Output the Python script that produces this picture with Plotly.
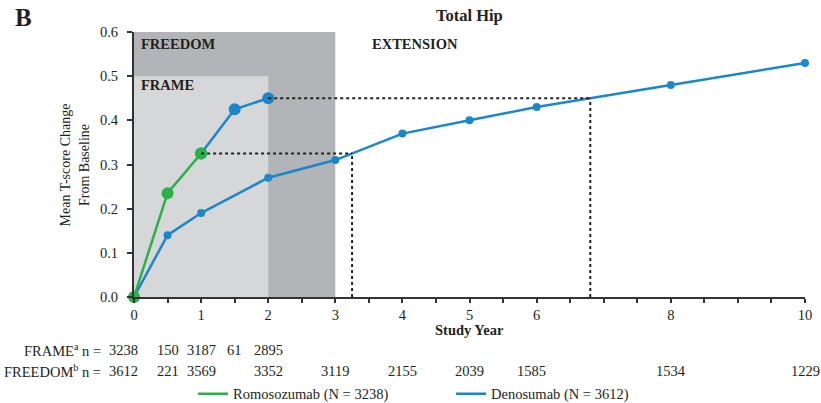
import plotly.graph_objects as go

# Study years and mean T-score change from baseline (total hip)
frame_romo_years = [0, 0.5, 1]
frame_romo_values = [0.0, 0.235, 0.325]
frame_dmab_years = [1, 1.5, 2]
frame_dmab_values = [0.325, 0.425, 0.45]
freedom_years = [0, 0.5, 1, 2, 3, 4, 5, 6, 8, 10]
freedom_values = [0.0, 0.14, 0.19, 0.27, 0.31, 0.37, 0.40, 0.43, 0.48, 0.53]

# Patients at risk
frame_n_years = [0, 0.5, 1, 1.5, 2]
frame_n = ["3238", "150", "3187", "61", "2895"]
freedom_n_years = [0, 0.5, 1, 2, 3, 4, 5, 6, 8, 10]
freedom_n = ["3612", "221", "3569", "3352", "3119", "2155", "2039", "1585", "1534", "1229"]

# Cross-over reference points (year reached on the FREEDOM curve)
ref_from_years = [1, 2]
ref_levels = [0.325, 0.45]
ref_to_years = [3.25, 6.8]

x_tick_vals = [i * 0.5 for i in range(21)]
x_tick_labels = {0: "0", 1: "1", 2: "2", 3: "3", 4: "4", 5: "5", 6: "6", 8: "8", 10: "10"}

GREEN = "#2bb04a"
BLUE = "#1b87c9"
DARK_GRAY = "#b3b4b7"
LIGHT_GRAY = "#d6d7d9"
INK = "#231f20"
SERIF = "Liberation Serif, Times New Roman, serif"

fig = go.Figure()

# Study period shading
fig.add_shape(type="rect", xref="x", yref="y", x0=0, x1=3, y0=0, y1=0.6,
              fillcolor=DARK_GRAY, line_width=0, layer="below")
fig.add_shape(type="rect", xref="x", yref="y", x0=0, x1=2, y0=0, y1=0.5,
              fillcolor=LIGHT_GRAY, line_width=0, layer="below")

# Dotted reference lines
for x0, lvl, x1 in zip(ref_from_years, ref_levels, ref_to_years):
    fig.add_shape(type="line", xref="x", yref="y", x0=x0, x1=x1, y0=lvl, y1=lvl,
                  line=dict(color="#222", width=2, dash="dot"))
    fig.add_shape(type="line", xref="x", yref="y", x0=x1, x1=x1, y0=0, y1=lvl,
                  line=dict(color="#222", width=2, dash="dot"))

fig.add_trace(go.Scatter(x=freedom_years, y=freedom_values, mode="lines+markers",
                         line=dict(color=BLUE, width=2.5), marker=dict(size=8, color=BLUE),
                         showlegend=False, cliponaxis=False))
fig.add_trace(go.Scatter(x=frame_dmab_years, y=frame_dmab_values, mode="lines+markers",
                         line=dict(color=BLUE, width=2.5), marker=dict(size=12, color=BLUE),
                         showlegend=False, cliponaxis=False))
fig.add_trace(go.Scatter(x=frame_romo_years, y=frame_romo_values, mode="lines+markers",
                         line=dict(color=GREEN, width=2.5), marker=dict(size=12, color=GREEN),
                         showlegend=False, cliponaxis=False))

# Legend entries
fig.add_trace(go.Scatter(x=[None], y=[None], mode="lines", name="Romosozumab (N = 3238)",
                         line=dict(color=GREEN, width=2.5)))
fig.add_trace(go.Scatter(x=[None], y=[None], mode="lines", name="Denosumab (N = 3612)",
                         line=dict(color=BLUE, width=2.5)))

ann = []
ann.append(dict(text="<b>B</b>", xref="paper", yref="paper", x=-0.18, y=1.055,
                xanchor="left", yanchor="middle", showarrow=False,
                font=dict(size=25, color=INK, family=SERIF)))
ann.append(dict(text="<b>Total Hip</b>", xref="paper", yref="paper", x=0.5, y=1.062,
                xanchor="center", yanchor="middle", showarrow=False,
                font=dict(size=16.5, color=INK, family=SERIF)))
ann.append(dict(text="<b>FREEDOM</b>", xref="x", yref="y", x=0.08, y=0.573,
                xanchor="left", yanchor="middle", showarrow=False,
                font=dict(size=14.5, color=INK, family=SERIF)))
ann.append(dict(text="<b>FRAME</b>", xref="x", yref="y", x=0.08, y=0.48,
                xanchor="left", yanchor="middle", showarrow=False,
                font=dict(size=14.5, color=INK, family=SERIF)))
ann.append(dict(text="<b>EXTENSION</b>", xref="x", yref="y", x=3.52, y=0.573,
                xanchor="left", yanchor="middle", showarrow=False,
                font=dict(size=14.5, color=INK, family=SERIF)))
ann.append(dict(text="Mean T-score Change<br>From Baseline", xref="paper", yref="paper",
                x=-0.088, y=0.5, xanchor="center", yanchor="middle", textangle=-90,
                showarrow=False, font=dict(size=14, color=INK, family=SERIF)))
ann.append(dict(text="<b>Study Year</b>", xref="paper", yref="paper", x=0.5, y=-0.123,
                xanchor="center", yanchor="middle", showarrow=False,
                font=dict(size=14.5, color=INK, family=SERIF)))

row_y = [-0.2, -0.28]
ann.append(dict(text="FRAME<sup>a</sup> n =", xref="paper", yref="paper", x=-0.046, y=row_y[0],
                xanchor="right", yanchor="middle", showarrow=False,
                font=dict(size=14.5, color=INK, family=SERIF)))
ann.append(dict(text="FREEDOM<sup>b</sup> n =", xref="paper", yref="paper", x=-0.046, y=row_y[1],
                xanchor="right", yanchor="middle", showarrow=False,
                font=dict(size=14.5, color=INK, family=SERIF)))
for yr, n in zip(frame_n_years, frame_n):
    shift = -11 if yr == 0 else 0
    ann.append(dict(text=n, xref="x", yref="paper", x=yr, y=row_y[0], xshift=shift,
                    xanchor="center", yanchor="middle", showarrow=False,
                    font=dict(size=14.5, color=INK, family=SERIF)))
for yr, n in zip(freedom_n_years, freedom_n):
    shift = -11 if yr == 0 else (-5 if yr == 6 else 0)
    ann.append(dict(text=n, xref="x", yref="paper", x=yr, y=row_y[1], xshift=shift,
                    xanchor="center", yanchor="middle", showarrow=False,
                    font=dict(size=14.5, color=INK, family=SERIF)))

fig.update_layout(
    width=821, height=403,
    margin=dict(l=134, r=16, t=32, b=106, autoexpand=False),
    paper_bgcolor="white", plot_bgcolor="white",
    font=dict(family=SERIF, size=14, color=INK),
    annotations=ann,
    showlegend=True,
    legend=dict(orientation="h", x=0.088, y=-0.365, xanchor="left", yanchor="middle",
                entrywidth=213, entrywidthmode="pixels",
                font=dict(size=14.5, color=INK, family=SERIF), bgcolor="rgba(0,0,0,0)"),
    xaxis=dict(range=[0, 10], showgrid=False, zeroline=False,
               showline=True, linecolor="#333", linewidth=2,
               ticks="outside", ticklen=4, tickwidth=1.5, tickcolor="#333",
               tickvals=x_tick_vals,
               ticktext=[x_tick_labels.get(v, "") if float(v).is_integer() else "" for v in x_tick_vals],
               tickfont=dict(size=14.5, color=INK, family=SERIF)),
    yaxis=dict(range=[0, 0.6], showgrid=False, zeroline=False,
               showline=True, linecolor="#333", linewidth=2,
               ticks="outside", ticklen=5, tickwidth=1.5, tickcolor="#333",
               ticklabelstandoff=6,
               tickvals=[0, 0.1, 0.2, 0.3, 0.4, 0.5, 0.6], tickformat=".1f",
               tickfont=dict(size=14.5, color=INK, family=SERIF)),
)

fig.write_html("out.html")
